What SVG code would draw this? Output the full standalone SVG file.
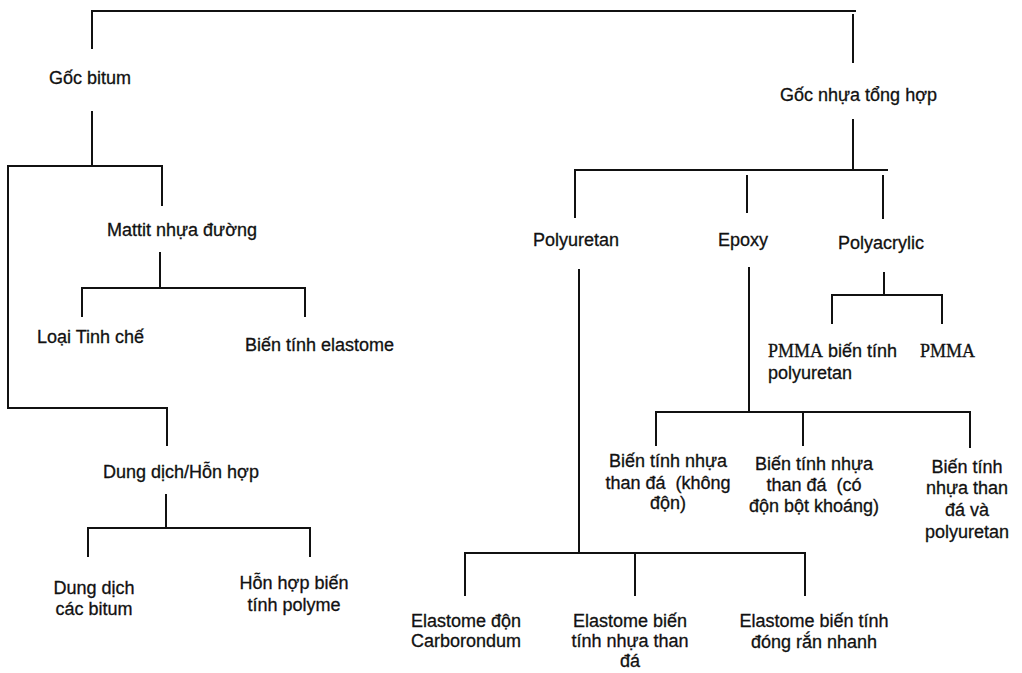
<svg xmlns="http://www.w3.org/2000/svg" width="1022" height="673" viewBox="0 0 1022 673">
<style>
.c{fill:none;stroke:#111;stroke-width:2;stroke-linecap:square}
text{font-family:"Liberation Sans",Arial,sans-serif;font-size:18px;fill:#111;stroke:#111;stroke-width:0.3}
.m{text-anchor:middle}
.s{font-family:"Liberation Serif","Times New Roman",serif}
</style>
<rect width="1022" height="673" fill="#fff"/>
<g id="connectors">
<path class="c" d="M92,48 V11 H855 M853,15 V62"/>
<path class="c" d="M92,112 V165 M8,408 V166 H162 V205"/>
<path class="c" d="M160,253 V288 M82,316 V288 H305 V316"/>
<path class="c" d="M8,408 H167 V445"/>
<path class="c" d="M166,495 V528 M88,556 V528 H310 V556"/>
<path class="c" d="M853,120 V170 M575,217 V170 H887 M747,176 V212 M883,176 V218"/>
<path class="c" d="M884,273 V295 M832,323 V295 H942 V323"/>
<path class="c" d="M749,268 V412 M656,445 V412 H970 V447 M803,412 V445"/>
<path class="c" d="M579,270 V553 M465,595 V553 H805 V595 M635,553 V595"/>
</g>
<g id="n-root-bitum"><text x="49" y="84">Gốc bitum</text></g>
<g id="n-root-nhua"><text x="780" y="101">Gốc nhựa tổng hợp</text></g>
<g id="n-mattit"><text x="107" y="236">Mattit nhựa đường</text></g>
<g id="n-tinhche"><text x="37" y="343">Loại Tinh chế</text></g>
<g id="n-elastome"><text x="245" y="351">Biến tính elastome</text></g>
<g id="n-dungdich-hh"><text x="103" y="478">Dung dịch/Hỗn hợp</text></g>
<g id="n-dungdich"><text class="m" x="94" y="594">Dung dịch</text><text class="m" x="94" y="615">các bitum</text></g>
<g id="n-honhop"><text class="m" x="294" y="589">Hỗn hợp biến</text><text class="m" x="294" y="611">tính polyme</text></g>
<g id="n-polyuretan"><text x="533" y="246">Polyuretan</text></g>
<g id="n-epoxy"><text x="718" y="246">Epoxy</text></g>
<g id="n-polyacrylic"><text x="838" y="249">Polyacrylic</text></g>
<g id="n-pmma-pu"><text x="768" y="357"><tspan class="s">PMMA</tspan> biến tính</text><text x="768" y="379">polyuretan</text></g>
<g id="n-pmma"><text class="s" x="920" y="357">PMMA</text></g>
<g id="n-ep1"><text class="m" x="668" y="467">Biến tính nhựa</text><text class="m" x="668" y="489" xml:space="preserve">than đá  (không</text><text class="m" x="668" y="509">độn)</text></g>
<g id="n-ep2"><text class="m" x="814" y="470">Biến tính nhựa</text><text class="m" x="814" y="491" xml:space="preserve">than đá  (có</text><text class="m" x="814" y="512">độn bột khoáng)</text></g>
<g id="n-ep3"><text class="m" x="967" y="473">Biến tính</text><text class="m" x="967" y="494">nhựa than</text><text class="m" x="967" y="516">đá và</text><text class="m" x="967" y="538">polyuretan</text></g>
<g id="n-el1"><text class="m" x="466" y="627">Elastome độn</text><text class="m" x="466" y="647">Carborondum</text></g>
<g id="n-el2"><text class="m" x="630" y="627">Elastome biến</text><text class="m" x="630" y="647">tính nhựa than</text><text class="m" x="630" y="667">đá</text></g>
<g id="n-el3"><text class="m" x="814" y="627">Elastome biến tính</text><text class="m" x="814" y="648">đóng rắn nhanh</text></g>
</svg>
